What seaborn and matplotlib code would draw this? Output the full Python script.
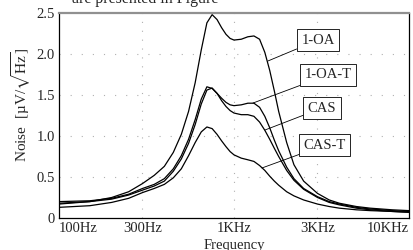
import numpy as np
import pandas as pd
import matplotlib
matplotlib.use("Agg")
import matplotlib.pyplot as plt
import seaborn as sns

freq = [100, 150, 200, 250, 300, 350, 400, 450, 500, 550, 600, 650, 700, 750,
        800, 850, 900, 950, 1000, 1100, 1200, 1300, 1400, 1500, 1600, 1700,
        1800, 2000, 2200, 2500, 3000, 3500, 4000, 5000, 6000, 8000, 10000]

oa = [0.17, 0.20, 0.25, 0.32, 0.42, 0.52, 0.63, 0.80, 1.02, 1.30, 1.65, 2.05,
      2.38, 2.48, 2.42, 2.32, 2.24, 2.19, 2.17, 2.18, 2.21, 2.22, 2.18, 2.02,
      1.80, 1.55, 1.30, 0.92, 0.65, 0.45, 0.30, 0.22, 0.18, 0.14, 0.12, 0.10, 0.09]

oa_t = [0.20, 0.21, 0.24, 0.29, 0.36, 0.41, 0.48, 0.60, 0.76, 0.96, 1.20, 1.45,
        1.60, 1.58, 1.52, 1.46, 1.41, 1.38, 1.37, 1.38, 1.40, 1.40, 1.35, 1.24,
        1.10, 0.95, 0.82, 0.62, 0.48, 0.36, 0.26, 0.20, 0.17, 0.13, 0.11, 0.09, 0.08]

cas = [0.18, 0.20, 0.23, 0.28, 0.34, 0.39, 0.45, 0.57, 0.72, 0.91, 1.14, 1.39,
       1.56, 1.585, 1.52, 1.43, 1.36, 1.31, 1.28, 1.26, 1.26, 1.24, 1.17, 1.07,
       0.96, 0.85, 0.75, 0.58, 0.46, 0.35, 0.25, 0.19, 0.16, 0.12, 0.10, 0.08, 0.07]

cas_t = [0.13, 0.15, 0.19, 0.24, 0.31, 0.36, 0.41, 0.49, 0.60, 0.76, 0.92, 1.05,
         1.11, 1.09, 1.02, 0.94, 0.87, 0.81, 0.77, 0.73, 0.71, 0.69, 0.64, 0.58,
         0.51, 0.45, 0.40, 0.32, 0.27, 0.22, 0.17, 0.14, 0.12, 0.10, 0.09, 0.08, 0.07]

series_names = ["1-OA", "1-OA-T", "CAS", "CAS-T"]

# label boxes: (text position, point on curve)
label_pos = {
    "1-OA": ((3020, 2.17), (1564, 1.915)),
    "1-OA-T": ((3444, 1.744), (1284, 1.402)),
    "CAS": ((3184, 1.341), (1503, 1.073)),
    "CAS-T": ((3311, 0.89), (1445, 0.61)),
}

xticks = [100, 300, 1000, 3000, 10000]
xtick_labels = ["100Hz", "300Hz", "1KHz", "3KHz", "10KHz"]
yticks = [0, 0.5, 1.0, 1.5, 2.0, 2.5]
ytick_labels = ["0", "0.5", "1.0", "1.5", "2.0", "2.5"]

df = pd.DataFrame({
    "freq": freq * 4,
    "noise": oa + oa_t + cas + cas_t,
    "series": sum([[n] * len(freq) for n in series_names], []),
})

sns.set_style("white")
plt.rcParams['font.family'] = ['Liberation Serif', 'DejaVu Serif']
plt.rcParams['mathtext.fontset'] = 'stix'

fig = plt.figure(figsize=(4.13, 2.5), dpi=100)
ax = fig.add_axes([59 / 413, 1 - 218 / 250, 350 / 413, 205 / 250])

sns.lineplot(data=df, x="freq", y="noise", hue="series", units="series",
             estimator=None, palette=["black"] * 4, linewidth=0.9,
             legend=False, ax=ax)

ax.set_xscale("log")
ax.set_xlim(100, 10000)
ax.set_ylim(0, 2.5)
ax.set_xticks(xticks)
ax.set_xticklabels(xtick_labels)
ax.xaxis.set_minor_locator(matplotlib.ticker.NullLocator())
ax.set_yticks(yticks)
ax.set_yticklabels(ytick_labels)
ax.set_yticks(np.arange(0, 2.5, 0.1), minor=True)
labs = ax.get_xticklabels()
labs[0].set_ha("left")
labs[-1].set_ha("right")

ax.tick_params(axis="both", which="major", labelsize=10.5, direction="in",
               length=3, width=0.6, color="black", pad=3)
ax.tick_params(axis="y", which="minor", direction="in", length=1.5,
               width=0.5, color="#aaaaaa")

for v in [0.5, 1.0, 1.5, 2.0]:
    ax.axhline(v, color="#b0b0b0", lw=0.8, ls=(0, (1, 9)), zorder=0)
for f in [300, 1000, 3000]:
    ax.axvline(f, color="#b0b0b0", lw=0.8, ls=(0, (1, 7)), zorder=0)

for side in ["left", "bottom", "right"]:
    ax.spines[side].set_color("black")
    ax.spines[side].set_linewidth(0.9)
ax.spines["top"].set_color("#909090")
ax.spines["top"].set_linewidth(1.6)

for name in series_names:
    (tx, ty), (px, py) = label_pos[name]
    ax.annotate(name, xy=(px, py), xytext=(tx, ty), fontsize=10.5,
                ha="center", va="center",
                bbox=dict(boxstyle="square,pad=0.3", fc="white", ec="black", lw=0.6),
                arrowprops=dict(arrowstyle="-", color="black", lw=0.6,
                                shrinkA=0, shrinkB=0))

ax.set_xlabel("Frequency", fontsize=10.5, labelpad=3)
ax.set_ylabel("Noise  [µV/$\\sqrt{\\mathrm{Hz}}$]", fontsize=11)
ax.yaxis.set_label_coords(-0.074, 0.55)

# cropped line of the surrounding page text at the very top
fig.text(0.174, 0.988, "are presented in Figure", fontsize=11.5,
         va="baseline", ha="left")

fig.savefig("out.png", dpi=100)
